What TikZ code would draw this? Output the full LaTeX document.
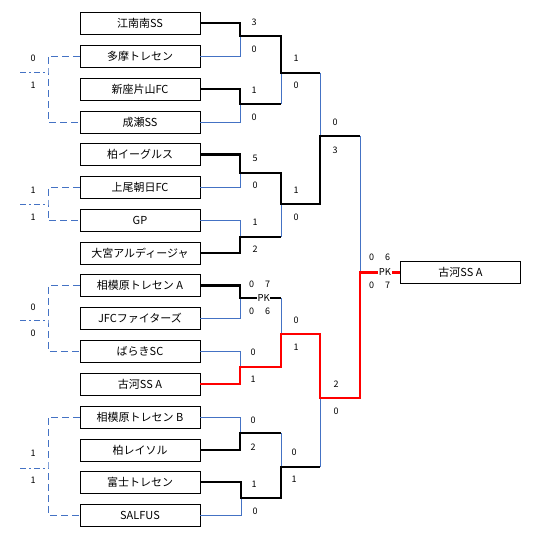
\documentclass[tikz,border=0pt]{standalone}
\usepackage{fontspec}
\setmainfont{Noto Sans CJK JP}
\usepackage{xcolor}
\definecolor{lineblue}{RGB}{68,114,196}
\tikzset{
team/.style={draw, line width=0.8pt, minimum width=120pt, minimum height=22pt, inner sep=0pt, font=\fontsize{11}{13}\selectfont},
score/.style={inner sep=0pt, font=\fontsize{9}{10}\selectfont},
pk/.style={fill=white, inner sep=0.6pt, font=\fontsize{9.5}{10}\selectfont},
win/.style={line width=2.5pt, draw=black},
winred/.style={line width=2.5pt, draw=red},
lose/.style={line width=0.9pt, draw=lineblue},
cons/.style={line width=0.9pt, draw=lineblue, dash pattern=on 7pt off 4pt},
consend/.style={line width=0.9pt, draw=lineblue, dash pattern=on 6pt off 3pt on 2pt off 3pt}
}
\begin{document}
\begin{tikzpicture}[x=1pt, y=-1pt]
\useasboundingbox (0,0) rectangle (535,540);
% teams
\node[team] (konan) at (140,23) {江南南SS};
\node[team] (tama) at (140,56) {多摩トレセン};
\node[team] (niiza) at (140,89) {新座片山FC};
\node[team] (naruse) at (140,122) {成瀬SS};
\node[team] (kashiwaE) at (140,154.5) {柏イーグルス};
\node[team] (ageo) at (140,187.5) {上尾朝日FC};
\node[team] (gp) at (140,220.5) {GP};
\node[team] (omiya) at (140,253) {大宮アルディージャ};
\node[team] (sagamiA) at (140,285.5) {相模原トレセン A};
\node[team] (jfc) at (140,318) {JFCファイターズ};
\node[team] (baraki) at (140,351) {ばらきSC};
\node[team] (koga) at (140,384) {古河SS A};
\node[team] (sagamiB) at (140,417) {相模原トレセン B};
\node[team] (reysol) at (140,450) {柏レイソル};
\node[team] (fuji) at (140,482) {富士トレセン};
\node[team] (salfus) at (140,515) {SALFUS};
\node[team] (champ) at (460.5,272.5) {古河SS A};
% junctions
\coordinate (a1) at (240,36);
\coordinate (a2) at (240,104);
\coordinate (a3) at (240,173);
\coordinate (a4) at (240,237);
\coordinate (a5) at (240,298);
\coordinate (a6) at (240,367);
\coordinate (a7) at (240,433);
\coordinate (a8) at (241,498);
\coordinate (b1) at (281,73);
\coordinate (b2) at (281,204);
\coordinate (b3) at (281,334);
\coordinate (b4) at (281,467);
\coordinate (c1) at (320,136);
\coordinate (c2) at (320,398);
\coordinate (d1) at (360,272.5);
% left side
\coordinate (l1) at (48,72);
\coordinate (l2) at (48,204);
\coordinate (l3) at (48,320);
\coordinate (l4) at (48,468);
\coordinate (e1) at (20,72);
\coordinate (e2) at (20,204);
\coordinate (e3) at (20,320);
\coordinate (e4) at (20,468);
\draw[cons] (tama.west) -| (l1) |- (naruse.west);
\draw[cons] (ageo.west) -| (l2) |- (gp.west);
\draw[cons] (sagamiA.west) -| (l3) |- (baraki.west);
\draw[cons] (sagamiB.west) -| (l4) |- (salfus.west);
\draw[consend] (e1) -- (l1);
\draw[consend] (e2) -- (l2);
\draw[consend] (e3) -- (l3);
\draw[consend] (e4) -- (l4);
% losers
\draw[lose] (tama.east) -| (a1);
\draw[lose] (naruse.east) -| (a2);
\draw[lose] (a2 -| b1) -- (b1);
\draw[lose] (b1 -| c1) -- (c1);
\draw[lose] (ageo.east) -| (a3);
\draw[lose] (gp.east) -| (a4);
\draw[lose] (a4 -| b2) -- (b2);
\draw[lose] (c1 -| d1) -- (d1);
\draw[lose] (jfc.east) -| (a5);
\draw[lose] (a5 -| b3) -- (b3);
\draw[lose] (baraki.east) -| (a6);
\draw[lose] (sagamiB.east) -| (a7);
\draw[lose] (a7 -| b4) -- (b4);
\draw[lose] (salfus.east) -| (a8);
\draw[lose] (b4 -| c2) -- (c2);
% winners
\draw[win] (konan.east) -| (a1) -| (b1) -- (b1 -| c1);
\draw[win] (niiza.east) -| (a2) -- (a2 -| b1);
\draw[win] (kashiwaE.east) -| (a3) -| (b2) -| (c1) -- (c1 -| d1);
\draw[win] (omiya.east) -| (a4) -- (a4 -| b2);
\draw[win] (sagamiA.east) -| (a5) -- node[pk, pos=0.58] (pk1) {PK} (a5 -| b3);
\draw[win] (reysol.east) -| (a7) -- (a7 -| b4);
\draw[win] (fuji.east) -| (a8) -| (b4) -- (b4 -| c2);
\draw[winred] (koga.east) -| (a6) -| (b3) -| (c2) -| (d1) -- node[pk, pos=0.62] (pk2) {PK} (champ.west);
% scores
\node[score] (s1) at (254,22) {3};
\node[score] (s2) at (254,49) {0};
\node[score] (s3) at (254,90) {1};
\node[score] (s4) at (254,117) {0};
\node[score] (s5) at (255,158) {5};
\node[score] (s6) at (255,185) {0};
\node[score] (s7) at (255,222) {1};
\node[score] (s8) at (255,249) {2};
\node[score] (s9) at (251.7,284) {0};
\node[score] (s10) at (267.7,284) {7};
\node[score] (s11) at (251.7,311) {0};
\node[score] (s12) at (267.7,311) {6};
\node[score] (s13) at (253,352) {0};
\node[score] (s14) at (253,379) {1};
\node[score] (s15) at (253,420) {0};
\node[score] (s16) at (253,447) {2};
\node[score] (s17) at (254,484) {1};
\node[score] (s18) at (255,511) {0};
\node[score] (s19) at (296,58) {1};
\node[score] (s20) at (296,85) {0};
\node[score] (s21) at (296,190) {1};
\node[score] (s22) at (296,217) {0};
\node[score] (s23) at (296,320) {0};
\node[score] (s24) at (296,347) {1};
\node[score] (s25) at (294,452) {0};
\node[score] (s26) at (294,479) {1};
\node[score] (s27) at (335,122) {0};
\node[score] (s28) at (335,150) {3};
\node[score] (s29) at (336,384) {2};
\node[score] (s30) at (336,411) {0};
\node[score] (s31) at (371.7,257.7) {0};
\node[score] (s32) at (387.7,257.7) {6};
\node[score] (s33) at (371.7,285) {0};
\node[score] (s34) at (387.7,285) {7};
\node[score] (s35) at (33,58) {0};
\node[score] (s36) at (33,85) {1};
\node[score] (s37) at (33,190) {1};
\node[score] (s38) at (33,217) {1};
\node[score] (s39) at (33,307) {0};
\node[score] (s40) at (33,333) {0};
\node[score] (s41) at (33,453) {1};
\node[score] (s42) at (33,480) {1};
\end{tikzpicture}
\end{document}
